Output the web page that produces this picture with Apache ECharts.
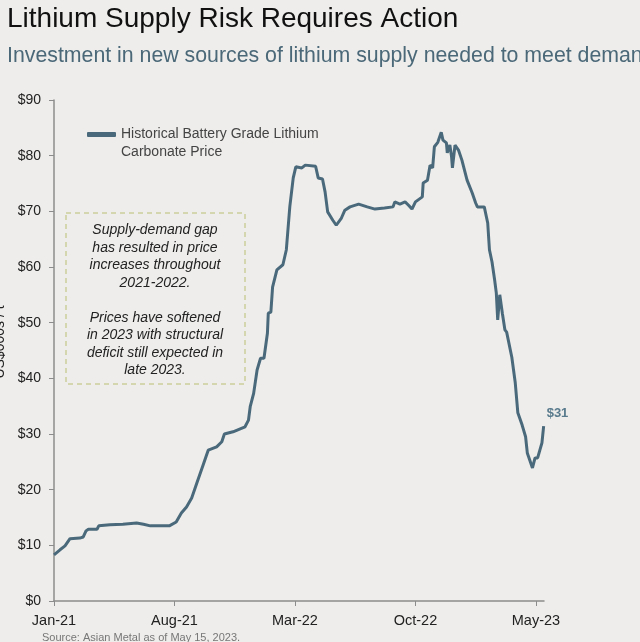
<!DOCTYPE html>
<html><head><meta charset="utf-8">
<script src="https://cdn.jsdelivr.net/npm/echarts@6/dist/echarts.min.js"></script>
<style>html,body{margin:0;padding:0;background:#eeedeb;}#c{width:640px;height:642px;}</style>
</head><body><div id="c"></div>
<script>
// months since Jan-2021
const months = [0,0.35,0.64,0.93,1.5,1.7,1.86,2.0,2.5,2.6,3.25,4.0,4.8,5.2,5.6,6.7,7.1,7.4,7.7,8.0,8.3,8.66,8.96,9.45,9.75,9.9,10.4,11.1,11.3,11.4,11.6,11.8,12.0,12.2,12.4,12.45,12.6,12.7,12.95,13.3,13.5,13.7,13.9,14.05,14.4,14.6,15.2,15.35,15.6,15.75,15.9,16.2,16.4,16.7,16.9,17.2,17.7,18.2,18.65,19.2,19.7,19.8,20.1,20.4,20.6,20.8,21.0,21.4,21.45,21.7,21.85,22.0,22.1,22.3,22.5,22.6,22.8,22.85,23.0,23.1,23.15,23.3,23.5,23.7,24.0,24.3,24.5,24.6,25.0,25.2,25.3,25.45,25.6,25.7,25.78,25.9,26.05,26.2,26.3,26.6,26.8,26.95,27.2,27.4,27.5,27.8,27.95,28.1,28.35,28.45];
const prices = [8.3,9.2,9.9,11.2,11.3,11.5,12.6,12.9,12.9,13.5,13.7,13.8,14.0,13.8,13.5,13.5,14.2,15.8,16.9,18.5,21.2,24.4,27.1,27.7,28.6,30.0,30.4,31.3,32.5,34.9,37.3,41.5,43.6,43.6,48.1,51.7,51.9,56.4,59.5,60.4,63.1,70.8,76.0,78.0,77.8,78.3,78.1,76.0,75.8,73.5,69.9,68.4,67.5,68.8,70.2,70.8,71.3,70.8,70.4,70.6,70.8,71.7,71.3,71.7,71.1,70.4,71.7,72.6,75.1,75.6,78.3,77.8,81.6,82.4,84.2,82.8,82.3,80.5,81.9,79.8,77.8,81.9,81.0,79.2,75.6,73.3,71.5,70.8,70.8,67.9,63.1,60.9,57.7,55.3,50.5,55.0,51.7,48.7,48.3,43.8,39.2,33.8,31.6,29.5,26.6,23.9,25.7,25.7,28.4,31.4];
const xTickValues = [0,7,14,21,28];
const xTickLabels = ['Jan-21','Aug-21','Mar-22','Oct-22','May-23'];
const seriesName = 'Historical Battery Grade Lithium\nCarbonate Price';
const endLabelText = '$31';
const noteLines = ['Supply-demand gap','has resulted in price','increases throughout','2021-2022.','','Prices have softened','in 2023 with structural','deficit still expected in','late 2023.'];

const SANS = "'Liberation Sans',Arial,sans-serif";
const lineColor = '#4a6a7b';

const chart = echarts.init(document.getElementById('c'));
chart.setOption({
  backgroundColor: '#eeedeb',
  animation: false,
  grid: {left: 54, top: 100, width: 490, height: 501, containLabel: false},
  xAxis: {
    type: 'value', min: 0, max: 28.47,
    splitLine: {show: false},
    axisLine: {show: true, lineStyle: {color: '#8c8c8c', width: 1.5}},
    axisTick: {show: true, length: 5, customValues: xTickValues, lineStyle: {color: '#8c8c8c'}},
    axisLabel: {customValues: xTickValues, margin: 12, fontFamily: SANS, fontSize: 14.5, color: '#222',
      formatter: v => { const i = xTickValues.indexOf(Math.round(v)); return i >= 0 ? xTickLabels[i] : ''; }}
  },
  yAxis: {
    type: 'value', min: 0, max: 90, interval: 10,
    splitLine: {show: false},
    axisLine: {show: true, lineStyle: {color: '#8c8c8c', width: 1.5}},
    axisTick: {show: true, length: 5, lineStyle: {color: '#8c8c8c'}},
    axisLabel: {margin: 13, fontFamily: SANS, fontSize: 14, color: '#222', formatter: v => '$' + v}
  },
  series: [{
    type: 'line', name: seriesName, showSymbol: false, symbol: 'none',
    data: months.map((m, i) => [m, prices[i]]),
    lineStyle: {color: lineColor, width: 3},
    itemStyle: {color: lineColor},
    endLabel: {show: true, formatter: endLabelText, offset: [-1, -13], distance: 4,
      fontFamily: SANS, fontWeight: 'bold', fontSize: 13, color: '#587a8c'}
  }],
  graphic: [
    {type: 'text', left: 7, top: 5, style: {text: 'Lithium Supply Risk Requires Action', font: '28px ' + SANS, fill: '#111'}},
    {type: 'text', x: 7, y: 46, style: {text: 'Investment in new sources of lithium supply needed to meet demand', font: '21.3px ' + SANS, fill: '#4a6878'}},
    {type: 'rect', shape: {x: 87, y: 132, width: 29, height: 5, r: 1}, style: {fill: lineColor}},
    {type: 'text', x: 121, y: 125, style: {text: 'Historical Battery Grade Lithium\nCarbonate Price', font: '14px ' + SANS, fill: '#444', lineHeight: 18}},
    {type: 'rect', shape: {x: 66, y: 213, width: 179, height: 171}, style: {fill: 'none', stroke: '#b9bf72', lineWidth: 1, lineDash: [5, 4]}},
    {type: 'text', x: 155, y: 221.5, style: {text: noteLines.join('\n'), font: 'italic 14px ' + SANS, fill: '#222', align: 'center', lineHeight: 17.5}},
    {type: 'text', x: 0, y: 342, rotation: Math.PI / 2, style: {text: 'US$000s / t', font: '14px ' + SANS, fill: '#222', align: 'center', verticalAlign: 'middle'}},
    {type: 'text', left: 42, top: 632, style: {text: 'Source: Asian Metal as of May 15, 2023.', font: '11px ' + SANS, fill: '#777'}}
  ]
});
</script></body></html>
